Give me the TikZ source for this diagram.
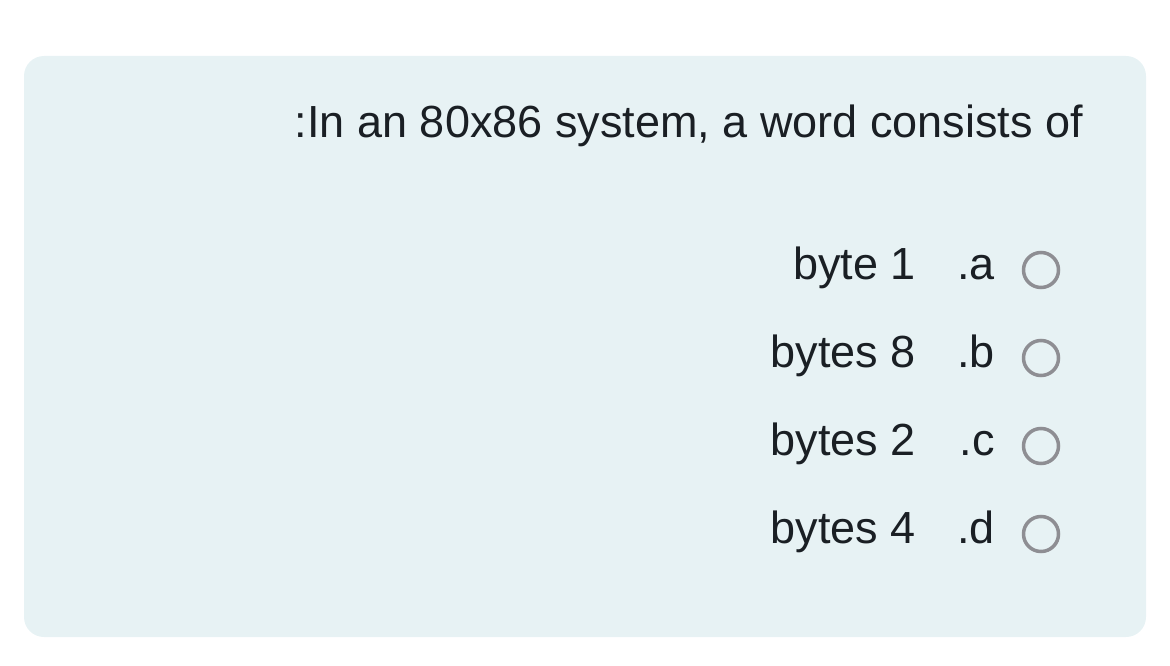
\documentclass[tikz,border=0pt]{standalone}
\usepackage{fontspec}
\setmainfont{Liberation Sans}
\definecolor{panel}{HTML}{E7F2F4}
\definecolor{txt}{HTML}{1A1F24}
\definecolor{ring}{HTML}{8E8E93}
\begin{document}
\begin{tikzpicture}[x=1pt,y=-1pt,
  lbl/.style={anchor=base east,inner sep=0pt,text=txt,font=\fontsize{45}{52}\selectfont},
  radio/.style={circle,draw=ring,line width=3.5pt,minimum size=35pt,inner sep=0pt}]
\useasboundingbox (0,0) rectangle (1170,666);
\fill[panel,rounded corners=20pt] (24,56) rectangle (1146,637);
\node[lbl] (q) at (1083,138) {:In an 80x86 system, a word consists of};
\foreach \y/\t/\l/\n in {279/byte 1/.a/a,367/bytes 8/.b/b,455/bytes 2/.c/c,543/bytes 4/.d/d}{
  \node[lbl] (t\n) at (916,\y) {\t};
  \node[lbl] (l\n) at (995,\y) {\l};
  \node[radio] (r\n) at (1041,\y-9) {};
}
\end{tikzpicture}
\end{document}
